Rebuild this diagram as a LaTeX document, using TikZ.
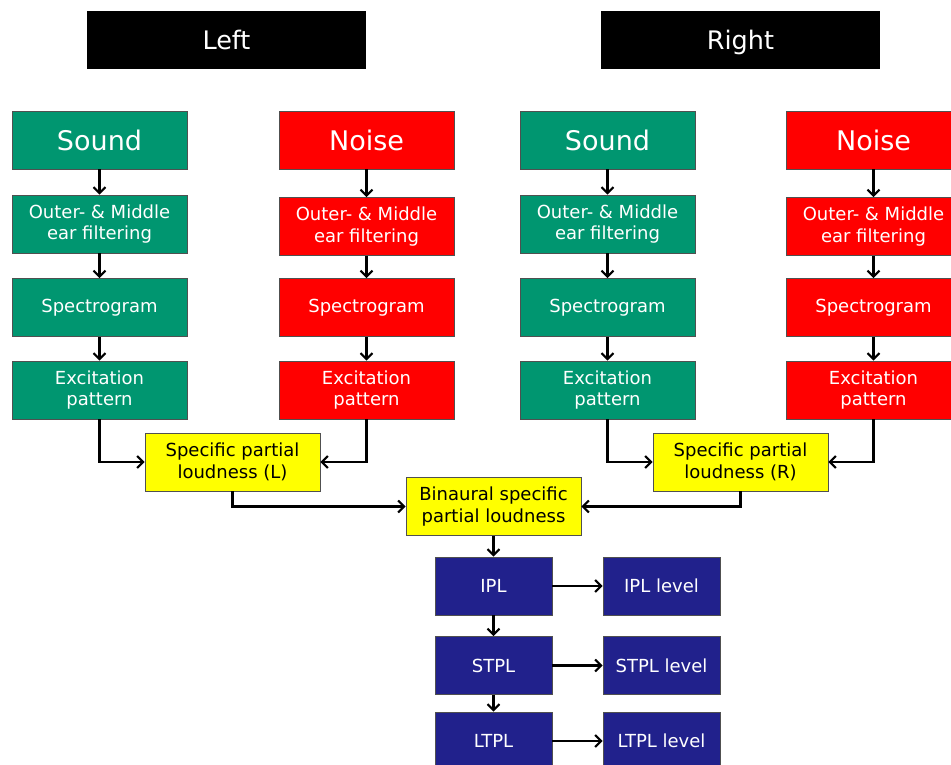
\documentclass[tikz,border=0pt]{standalone}
\usepackage{fontspec}
\setmainfont{DejaVu Sans}
\usetikzlibrary{arrows.meta}
\definecolor{grn}{RGB}{0,150,112}
\definecolor{rd}{RGB}{255,0,0}
\definecolor{ylw}{RGB}{255,255,0}
\definecolor{nvy}{RGB}{33,33,140}
\definecolor{edge}{RGB}{80,80,80}
\tikzset{
  box/.style={draw=edge, line width=0.8pt, minimum width=175pt, minimum height=58pt,
    inner sep=0pt, align=center, text=white, font=\fontsize{18}{21.7}\selectfont},
  gbox/.style={box, fill=grn},
  rbox/.style={box, fill=rd},
  ybox/.style={box, fill=ylw, text=black},
  nbox/.style={box, fill=nvy, minimum width=117pt},
  big/.style={font=\fontsize{27}{30}\selectfont},
  hdr/.style={fill=black, minimum width=279pt, minimum height=58pt, text=white,
    inner sep=0pt, text height=20pt, text depth=0pt, font=\fontsize{25.5}{30}\selectfont},
  arr/.style={-{Straight Barb[length=6pt,width=12pt]}, line width=2.1pt, black},
}
\begin{document}
\begin{tikzpicture}[x=1pt,y=-1pt]
\useasboundingbox (0,0) rectangle (951,765);
\clip (0,0) rectangle (951,765);
\fill[white] (0,0) rectangle (951,765);
% headers
\node[hdr] (lh) at (226.5,40) {Left};
\node[hdr] (rh) at (740.5,40) {Right};
% left sound column
\node[gbox,big] (ls1) at (99.5,140) {Sound};
\node[gbox] (ls2) at (99.5,224) {Outer- \& Middle\\ear filtering};
\node[gbox] (ls3) at (99.5,307.5) {Spectrogram};
\node[gbox] (ls4) at (99.5,390) {Excitation\\pattern};
% left noise column
\node[rbox,big] (ln1) at (366.5,140) {Noise};
\node[rbox] (ln2) at (366.5,226.5) {Outer- \& Middle\\ear filtering};
\node[rbox] (ln3) at (366.5,307.5) {Spectrogram};
\node[rbox] (ln4) at (366.5,390) {Excitation\\pattern};
% right sound column
\node[gbox,big] (rs1) at (607.5,140) {Sound};
\node[gbox] (rs2) at (607.5,224) {Outer- \& Middle\\ear filtering};
\node[gbox] (rs3) at (607.5,307.5) {Spectrogram};
\node[gbox] (rs4) at (607.5,390) {Excitation\\pattern};
% right noise column
\node[rbox,big] (rn1) at (873.5,140) {Noise};
\node[rbox] (rn2) at (873.5,226.5) {Outer- \& Middle\\ear filtering};
\node[rbox] (rn3) at (873.5,307.5) {Spectrogram};
\node[rbox] (rn4) at (873.5,390) {Excitation\\pattern};
% loudness
\node[ybox] (spl) at (232.5,462) {Specific partial\\loudness (L)};
\node[ybox] (spr) at (740.5,462) {Specific partial\\loudness (R)};
\node[ybox] (bin) at (493.5,506.5) {Binaural specific\\partial loudness};
% outputs
\node[nbox] (ipl) at (493.5,586) {IPL};
\node[nbox] (stpl) at (493.5,665.5) {STPL};
\node[nbox] (ltpl) at (493.5,741) {LTPL};
\node[nbox] (ipll) at (661.5,586) {IPL level};
\node[nbox] (stpll) at (661.5,665.5) {STPL level};
\node[nbox] (ltpll) at (661.5,741) {LTPL level};
% connectors
\foreach \c in {ls,ln,rs,rn}{
  \draw[arr] (\c1) -- (\c2);
  \draw[arr] (\c2) -- (\c3);
  \draw[arr] (\c3) -- (\c4);
}
\draw[arr] (ls4.south) |- (spl.west);
\draw[arr] (ln4.south) |- (spl.east);
\draw[arr] (rs4.south) |- (spr.west);
\draw[arr] (rn4.south) |- (spr.east);
\draw[arr] (spl.south) |- (bin.west);
\draw[arr] (spr.south) |- (bin.east);
\draw[arr] (bin) -- (ipl);
\draw[arr] (ipl) -- (stpl);
\draw[arr] (stpl) -- (ltpl);
\draw[arr] (ipl) -- (ipll);
\draw[arr] (stpl) -- (stpll);
\draw[arr] (ltpl) -- (ltpll);
\end{tikzpicture}
\end{document}
